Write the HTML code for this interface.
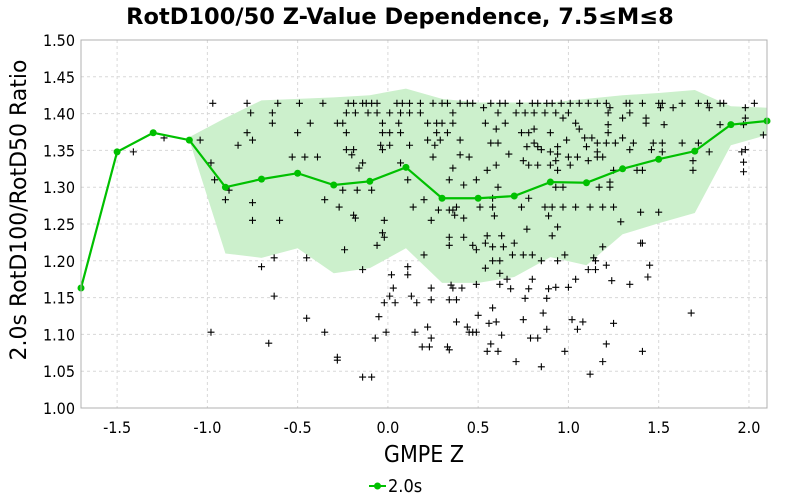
<!DOCTYPE html>
<html><head><meta charset="utf-8"><style>
html,body{margin:0;padding:0;background:#fff;}
svg{display:block;font-family:"DejaVu Sans","Liberation Sans",sans-serif;}
.cond{font-family:"DejaVu Sans Condensed","DejaVu Sans","Liberation Sans",sans-serif;font-stretch:condensed;}
</style></head><body>
<svg id="chart" width="800" height="500" viewBox="0 0 800 500">
<text x="400" y="24" text-anchor="middle" font-size="22.5" font-weight="bold">RotD100/50 Z-Value Dependence, 7.5≤M≤8</text>
<text transform="translate(26,210) rotate(-90)" text-anchor="middle" font-size="22">2.0s RotD100/RotD50 Ratio</text>
<text x="424" y="462" text-anchor="middle" font-size="23" class="cond">GMPE Z</text>
<g>
<line x1="369" y1="486" x2="386" y2="486" stroke="#00c000" stroke-width="2"/>
<circle cx="377.5" cy="486" r="3.5" fill="#00c000"/>
<text x="388" y="492" font-size="18" class="cond">2.0s</text>
</g>
<g id="grid"></g><g id="band"></g><g id="pts"></g><g id="line"></g><g id="axes"></g>
</svg>
<script>
const xTicks=[-1.5,-1.0,-0.5,0.0,0.5,1.0,1.5,2.0];
const xTickLabels=["-1.5","-1.0","-0.5","0.0","0.5","1.0","1.5","2.0"];
const yTicks=[1.00,1.05,1.10,1.15,1.20,1.25,1.30,1.35,1.40,1.45,1.50];
const yTickLabels=["1.00","1.05","1.10","1.15","1.20","1.25","1.30","1.35","1.40","1.45","1.50"];
const lineX=[-1.7,-1.5,-1.3,-1.1,-0.9,-0.7,-0.5,-0.3,-0.1,0.1,0.3,0.5,0.7,0.9,1.1,1.3,1.5,1.7,1.9,2.1];
const lineY=[1.163,1.348,1.374,1.364,1.300,1.311,1.319,1.303,1.308,1.327,1.285,1.285,1.288,1.307,1.306,1.325,1.338,1.349,1.385,1.390];
const bandX=[-1.1,-0.9,-0.7,-0.5,-0.3,-0.1,0.1,0.3,0.5,0.7,0.9,1.1,1.3,1.5,1.7,1.9,2.1];
const bandUpper=[1.368,1.394,1.418,1.42,1.422,1.425,1.434,1.42,1.415,1.415,1.415,1.42,1.425,1.428,1.432,1.41,1.408];
const bandLower=[1.364,1.21,1.204,1.217,1.183,1.19,1.217,1.17,1.17,1.178,1.205,1.194,1.236,1.251,1.265,1.357,1.371];
const rowY=[1.414,1.408,1.401,1.394,1.387,1.385,1.379,1.374,1.367,1.364,1.360,1.357,1.355,1.351,1.348,1.345,1.344,1.341,1.336,1.334,1.333,1.330,1.326,1.323,1.321,1.310,1.307,1.303,1.300,1.296,1.285,1.283,1.279,1.273,1.269,1.266,1.262,1.261,1.258,1.255,1.253,1.246,1.243,1.238,1.234,1.232,1.224,1.221,1.219,1.215,1.208,1.204,1.200,1.194,1.192,1.190,1.188,1.183,1.181,1.178,1.175,1.173,1.168,1.167,1.164,1.163,1.162,1.152,1.149,1.147,1.143,1.136,1.129,1.126,1.124,1.122,1.120,1.117,1.115,1.110,1.107,1.103,1.099,1.095,1.088,1.087,1.083,1.079,1.077,1.069,1.065,1.063,1.056,1.046,1.042,1.371];
const rowX=[
[-0.97,-0.78,-0.61,-0.49,-0.36,-0.22,-0.19,-0.14,-0.12,-0.09,-0.06,0.05,0.08,0.12,0.18,0.25,0.30,0.33,0.40,0.44,0.47,0.57,0.62,0.65,0.73,0.80,0.83,0.88,0.91,0.96,1.01,1.06,1.11,1.16,1.21,1.32,1.34,1.41,1.50,1.52,1.63,1.72,1.77,1.84,1.86,2.03],
[0.53,1.23,1.51,1.58,1.78,1.98],
[-0.76,-0.64,-0.23,-0.18,-0.11,-0.06,0.01,0.07,0.12,0.18,0.36,0.61,0.71,0.76,0.81,0.87,0.93,1.00,1.22,1.34],
[0.97,1.30,1.43,1.98],
[-0.64,-0.43,-0.28,-0.25,-0.03,0.06,0.22,0.27,0.30,0.36,0.54,0.65,1.04,1.43],
[1.22,1.53,1.84,1.97],
[0.60,0.81,1.06],
[-0.78,-0.50,-0.23,-0.03,0.01,0.07,0.27,0.33,0.74,0.78,0.90,1.22],
[1.09,1.13,1.30,-1.24],
[-1.04,-0.75,0.22,0.29,0.40,0.99],
[0.57,0.61,0.81,1.16,1.21,1.26,1.36,1.47,1.52,1.63,1.72],
[-0.83,-0.04,0.01,0.12,0.26],
[0.77,0.83,0.94,1.10],
[-0.23,-0.19,-0.03,0.85,1.34,1.46,1.98],
[-1.41,0.90,1.16,1.52,1.78,1.96],
[0.67,0.94],
[-0.20,0.40],
[-0.53,-0.46,-0.39,0.25,0.45,1.00,1.05,1.16,1.19],
[0.75,0.93,1.11,1.69],
[1.97],
[-0.98,-0.14,0.07],
[0.60,0.78,0.83,0.90,1.01],
[-0.16,0.36],
[0.55,0.94,1.25,1.38,1.41,1.69],
[1.97],
[-0.96,0.11,0.34,0.49],
[1.23],
[0.42],
[0.61,0.93,0.97,1.17,1.23],
[-0.88,-0.25,-0.17,-0.09],
[0.58,0.78],
[-0.90,-0.35,0.20],
[-0.75],
[-0.27,0.14,0.38,0.51,0.58,0.74,0.87,0.91,0.97,1.04,1.12,1.19,1.25],
[0.28,0.34,0.36],
[1.40,1.50],
[-0.19,0.37],
[0.59,0.89],
[-0.18,0.42],
[-0.75,-0.60,-0.02,0.24],
[1.29],
[0.94],
[0.77],
[-0.03],
[0.55,0.63,0.91],
[-0.02,0.34,0.42],
[0.54,0.70,1.40,1.41],
[-0.06,0.34,0.47],
[0.58,0.64,1.19],
[-0.24,0.49],
[0.20,0.69,0.75,0.80,0.98],
[-0.63,-0.45,1.14],
[0.58,0.62,0.85,0.94,1.15],
[1.21,1.45],
[-0.70,0.11],
[0.54],
[-0.14,1.11,1.15],
[0.62],
[0.02,0.11],
[1.44],
[0.66,0.80,1.04],
[1.24],
[0.49,0.62,1.34],
[0.35],
[0.93,1.00],
[0.03,0.24,0.36,0.41],
[0.68,0.78,0.89],
[-0.63,0.01,0.13],
[0.76,0.88],
[0.24,0.34,0.38],
[-0.02,0.04,0.16],
[0.58],
[0.86,1.68],
[0.50],
[-0.05],
[-0.45],
[0.75,1.02],
[0.38,0.60,1.08],
[0.56,1.25],
[0.22,0.44],
[0.88,1.05],
[-0.98,-0.35,-0.01,0.15,0.45,0.47,0.49],
[0.63],
[-0.07,0.24,0.79,0.83],
[-0.66],
[0.57,1.21],
[0.19,0.23,0.33],
[0.34],
[0.55,0.61,0.98,1.41],
[-0.28],
[-0.28],
[0.71,1.19],
[0.85],
[1.12],
[-0.14,-0.09],
[2.08]
];
const NS="http://www.w3.org/2000/svg";
const L=81,R=767,T=40,B=408,xmin=-1.7,xmax=2.1,ymin=1.0,ymax=1.5;
function sx(v){return L+(v-xmin)/(xmax-xmin)*(R-L);}
function sy(v){return B-(v-ymin)/(ymax-ymin)*(B-T);}
function mk(tag,attrs,parent){const e=document.createElementNS(NS,tag);for(const k in attrs)e.setAttribute(k,attrs[k]);parent.appendChild(e);return e;}
const grid=document.getElementById('grid'),axes=document.getElementById('axes');
xTicks.forEach((t,i)=>{
  const g=mk('line',{x1:sx(t),x2:sx(t),y1:T,y2:B,stroke:'#d8d8d8','stroke-dasharray':'3,3'},grid);
  
  
  const tx=mk('text',{x:sx(t),y:B+25,'text-anchor':'middle','font-size':'16',class:'cond'},axes);
  tx.textContent=xTickLabels[i];
  
  
});
yTicks.forEach((t,i)=>{
  const g=mk('line',{x1:L,x2:R,y1:sy(t),y2:sy(t),stroke:'#d8d8d8','stroke-dasharray':'3,3'},grid);
  
  
  const tx=mk('text',{x:L-6,y:sy(t)+6,'text-anchor':'end','font-size':'16',class:'cond'},axes);
  tx.textContent=yTickLabels[i];
  
  
});
const frame=mk('rect',{x:L,y:T,width:R-L,height:B-T,fill:'none',stroke:'#b0b0b0'},axes);


let d='';
bandX.forEach((x,i)=>{d+=(i?'L':'M')+sx(x)+','+sy(bandUpper[i]);});
for(let i=bandX.length-1;i>=0;i--)d+='L'+sx(bandX[i])+','+sy(bandLower[i]);
const band=mk('path',{d:d+'Z',fill:'#ccf0cc'},document.getElementById('band'));


const pts=document.getElementById('pts');
rowY.forEach((y,i)=>{rowX[i].forEach(x=>{
  const cx=sx(x),cy=sy(y);
  const p=mk('path',{d:`M${cx-3.5},${cy}H${cx+3.5}M${cx},${cy-3.5}V${cy+3.5}`,stroke:'#000','stroke-width':'1.1'},pts);
  
  
});});
const lg=document.getElementById('line');
const pl=mk('polyline',{points:lineX.map((x,i)=>sx(x)+','+sy(lineY[i])).join(' '),fill:'none',stroke:'#00c000','stroke-width':'2.2'},lg);


lineX.forEach((x,i)=>{
  const c=mk('circle',{cx:sx(x),cy:sy(lineY[i]),r:3.5,fill:'#00c000'},lg);
  
  
});
</script>
</body></html>
